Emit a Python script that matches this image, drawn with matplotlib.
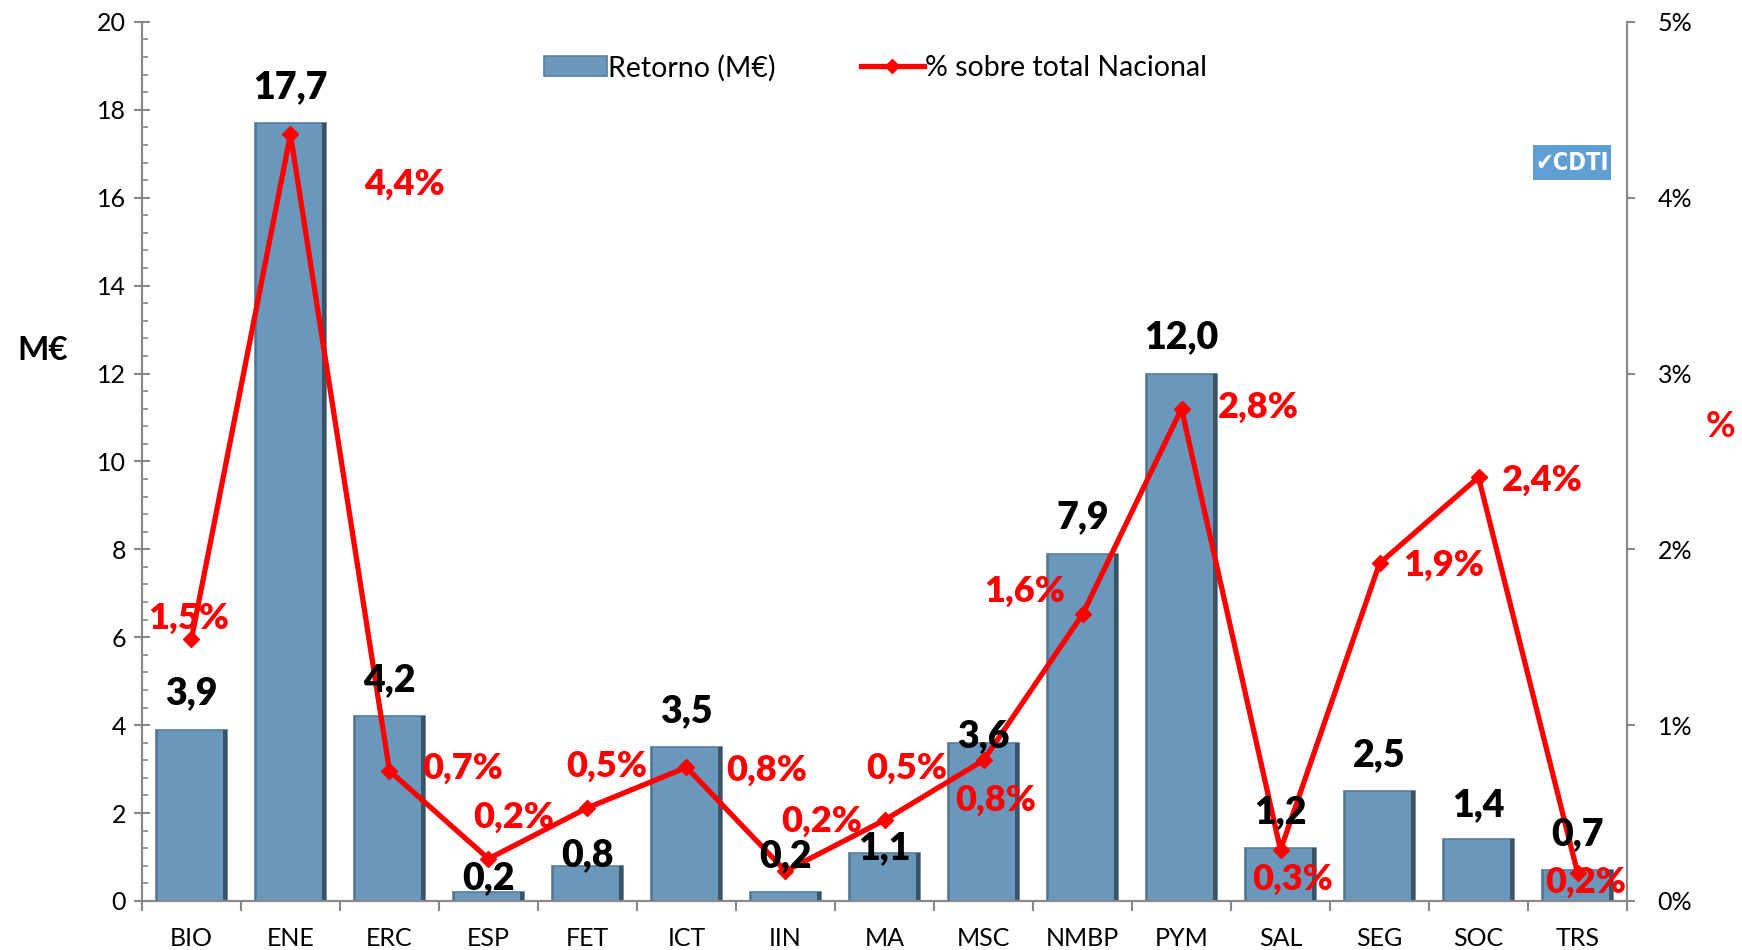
"""Retorno por temática (M€) y % sobre total nacional."""

import matplotlib
matplotlib.use("Agg")
import matplotlib.pyplot as plt
import numpy as np
from matplotlib.lines import Line2D
from matplotlib.patches import Rectangle
from matplotlib.ticker import FuncFormatter, MultipleLocator

categories = ["BIO", "ENE", "ERC", "ESP", "FET", "ICT", "IIN", "MA",
              "MSC", "NMBP", "PYM", "SAL", "SEG", "SOC", "TRS"]
retorno = [3.9, 17.7, 4.2, 0.2, 0.8, 3.5, 0.2, 1.1, 3.6, 7.9, 12.0, 1.2, 2.5, 1.4, 0.7]
pct_nacional = [1.49, 4.36, 0.74, 0.24, 0.53, 0.76, 0.17, 0.46, 0.80, 1.63,
                2.80, 0.29, 1.92, 2.41, 0.16]

# label offsets (points) tuned by eye
bar_lab_dy = [26, 26, 26, 10, 8, 26, 26, 3, 5, 26, 26, 26, 26, 25, 26]
pct_lab_off = [(-2, 15), (82, -36), (53, 2), (18, 30), (14, 30), (58, -2),
               (26, 36), (16, 37), (9, -29), (-42, 17), (55, 1), (9, -21),
               (46, -1), (46, -2), (6, -7)]

plt.rcParams["font.family"] = ["Lato", "DejaVu Sans"]

BAR = "#6a98bc"
RED = "#ff0000"
AXC = "#888888"


def fmt(v):
    return f"{v:.1f}".replace(".", ",")


fig = plt.figure(figsize=(17.42, 9.5), dpi=100)
ax = fig.add_axes([0.0815, 0.0516, 0.8525, 0.9254])
ax2 = ax.twinx()

x = np.arange(len(categories))
w = 0.72
bars = ax.bar(x, retorno, width=w, color=BAR, edgecolor="#587d9b", linewidth=1.2, zorder=2)
# bevel-ish shading on the sides of each bar
ax.bar(x + w / 2 - 0.02, retorno, width=0.04, color="#2e3d4a", alpha=0.75, zorder=3)
ax.bar(x - w / 2 + 0.012, retorno, width=0.024, color="#4d6a82", alpha=0.6, zorder=3)

ax.set_xlim(-0.5, len(categories) - 0.5)
ax.set_ylim(0, 20)
ax2.set_ylim(0, 5)

line, = ax2.plot(x, pct_nacional, color=RED, lw=3.8, marker="D", ms=8, zorder=4)

# spines and ticks
for a in (ax, ax2):
    a.spines["top"].set_visible(False)
    for s in ("left", "right", "bottom"):
        a.spines[s].set_color(AXC)
        a.spines[s].set_linewidth(1.5)

ax.yaxis.set_major_locator(MultipleLocator(2))
ax.yaxis.set_minor_locator(MultipleLocator(0.4))
ax.tick_params(axis="y", which="major", direction="inout", length=11, width=1.5,
               color=AXC, labelsize=18, pad=6)
ax.tick_params(axis="y", which="minor", direction="in", length=4, width=1.2, color=AXC)

ax.set_xticks(x)
ax.set_xticklabels(categories)
ax.set_xticks(np.arange(-0.5, len(categories)), minor=True)
ax.tick_params(axis="x", which="major", length=0, labelsize=18, pad=19)
ax.tick_params(axis="x", which="minor", direction="out", length=7, width=1.5, color=AXC)

ax2.yaxis.set_major_locator(MultipleLocator(1))
ax2.yaxis.set_major_formatter(FuncFormatter(lambda v, _: f"{v:.0f}%"))
ax2.tick_params(axis="y", direction="out", length=6, width=1.5, color=AXC,
                labelsize=18, pad=16)

ax.set_ylabel("M€", rotation=0, fontsize=24, fontweight="bold")
ax.yaxis.set_label_coords(-0.067, 0.61)
ax2.set_ylabel("%", rotation=0, fontsize=26, fontweight="bold", color=RED)
ax2.yaxis.set_label_coords(1.063, 0.559)

# value labels
for xi, v, dy in zip(x, retorno, bar_lab_dy):
    ax2.annotate(fmt(v), (xi, v), xycoords=ax.transData, xytext=(0, dy),
                 textcoords="offset points", ha="center", va="center",
                 fontsize=27, fontweight="heavy", color="black", zorder=6)
for xi, p, (dx, dy) in zip(x, pct_nacional, pct_lab_off):
    ax2.annotate(fmt(p) + "%", (xi, p), xytext=(dx, dy),
                 textcoords="offset points", ha="center", va="center",
                 fontsize=26, fontweight="heavy", color=RED, zorder=6)

# legend
handles = [bars, Line2D([0], [0], color=RED, lw=3.8, marker="D", ms=7)]
leg = ax2.legend(handles, ["Retorno (M€)", "% sobre total Nacional"], ncol=2,
                 loc="upper center", bbox_to_anchor=(0.494, 0.992), frameon=False,
                 fontsize=20.5, handlelength=2.2, handletextpad=0.05, columnspacing=3.0)

# CDTI logo
fig.patches.append(Rectangle((0.880, 0.811), 0.045, 0.036, transform=fig.transFigure,
                             facecolor="#5f9fd4", edgecolor="none", zorder=5))
fig.text(0.9025, 0.828, "✔CDTI", ha="center", va="center", color="white",
         fontsize=17, fontweight="bold", family=["DejaVu Sans"], stretch="condensed",
         zorder=6)

fig.savefig("out.png", dpi=100)
